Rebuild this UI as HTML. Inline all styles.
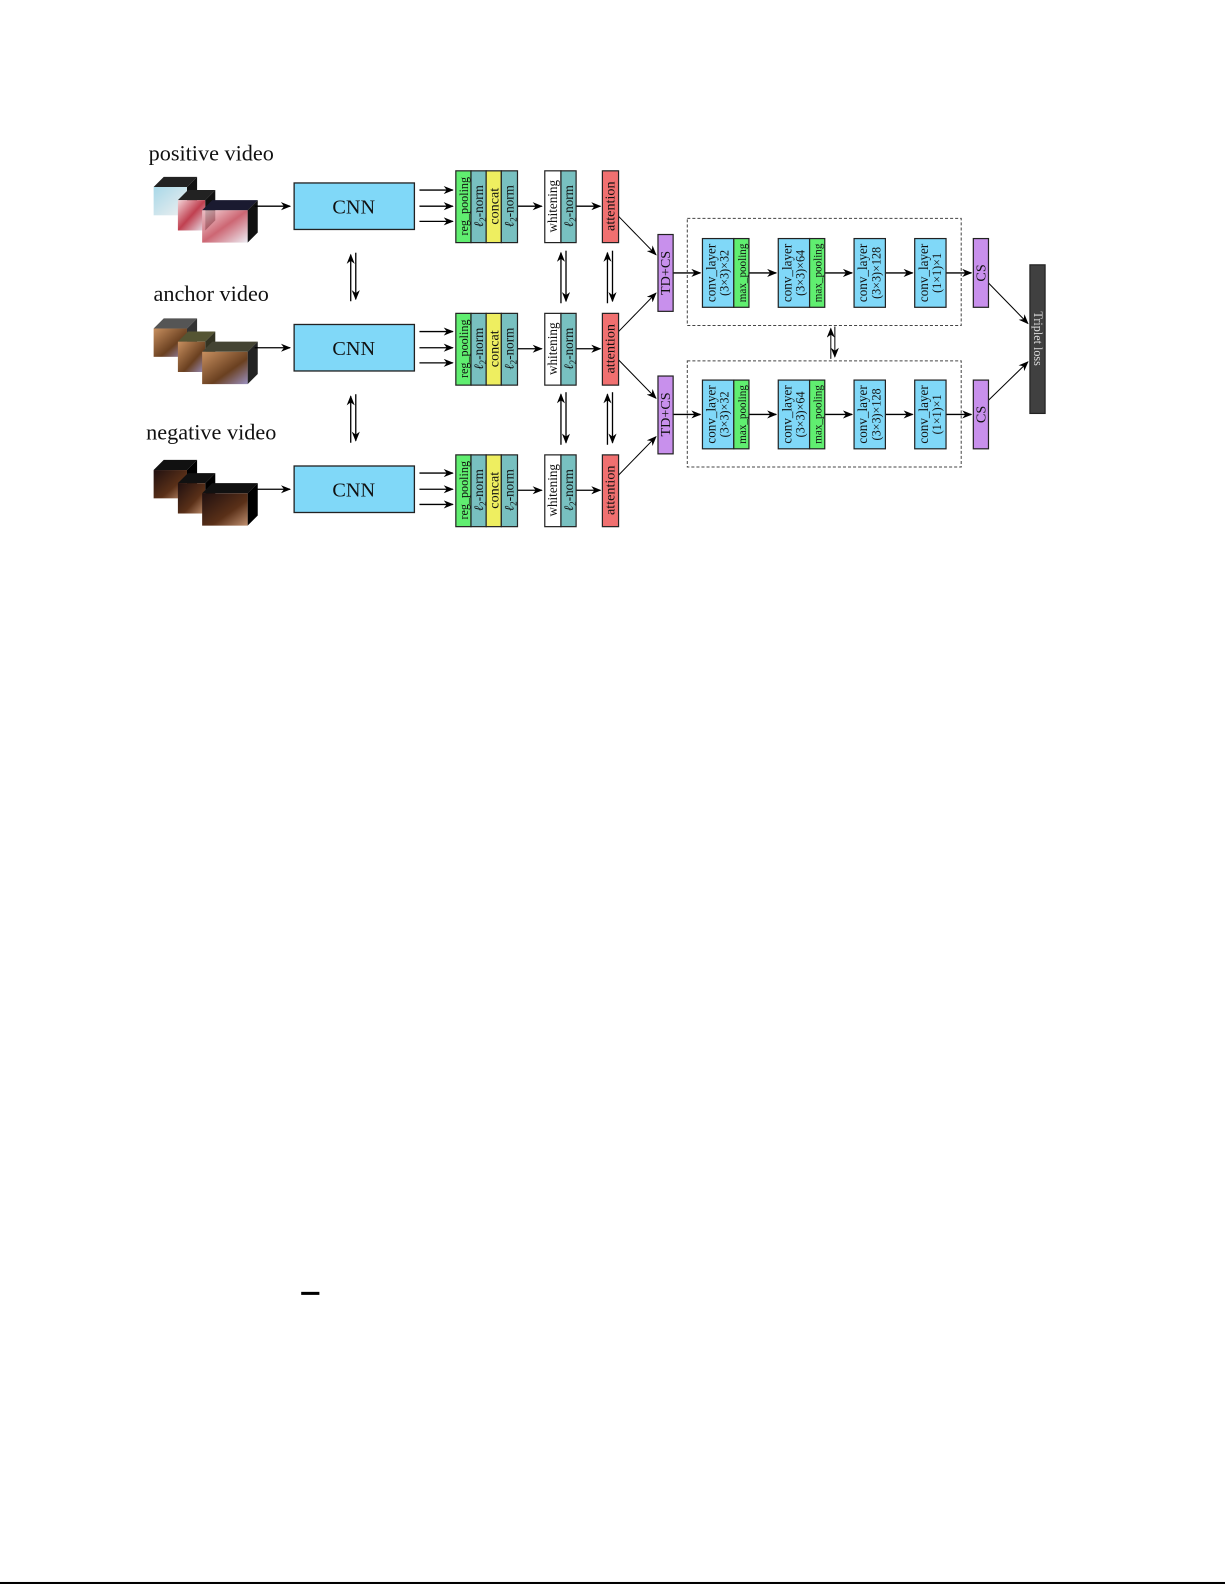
<!DOCTYPE html>
<html><head><meta charset="utf-8"><style>
html,body{margin:0;padding:0;background:#fff;}
svg{display:block;}
text{font-family:"Liberation Serif",serif;fill:#111;}
</style></head><body>
<svg width="1225" height="1585" viewBox="0 0 1212 1568" preserveAspectRatio="none" xmlns="http://www.w3.org/2000/svg">
<defs>
<marker id="ah" markerWidth="10" markerHeight="8" refX="9" refY="4" orient="auto" markerUnits="userSpaceOnUse">
<path d="M0,0 L10,4 L0,8 L3,4 z" fill="#000"/></marker>
<linearGradient id="gp" x1="0" y1="0" x2="1" y2="1"><stop offset="0" stop-color="#f4d4d8"/><stop offset="0.5" stop-color="#c04050"/><stop offset="1" stop-color="#e8e8f0"/></linearGradient>
<linearGradient id="gp2" x1="0" y1="0" x2="1" y2="1"><stop offset="0" stop-color="#a8d8e8"/><stop offset="1" stop-color="#f0f0f0"/></linearGradient>
<linearGradient id="ga" x1="0" y1="0" x2="1" y2="1"><stop offset="0" stop-color="#c89060"/><stop offset="0.6" stop-color="#6a4020"/><stop offset="1" stop-color="#9a90c0"/></linearGradient>
<linearGradient id="gn" x1="0" y1="0" x2="1" y2="1"><stop offset="0" stop-color="#201010"/><stop offset="0.6" stop-color="#5a3018"/><stop offset="1" stop-color="#c09070"/></linearGradient>
</defs>

<text x="209" y="159" font-size="22" text-anchor="middle">positive video</text>
<text x="209" y="298" font-size="22" text-anchor="middle">anchor video</text>
<text x="209" y="435" font-size="22" text-anchor="middle">negative video</text>

<g id="thumbs">
<polygon points="152,185 162,175 195,175 185,185" fill="#222"/><polygon points="185,185 195,175 195,203 185,213" fill="#111"/>
<rect x="152" y="185" width="33" height="28" fill="url(#gp2)"/>
<polygon points="176,198 186,188 213,188 203,198" fill="#222"/><polygon points="203,198 213,188 213,218 203,228" fill="#111"/>
<rect x="176" y="198" width="27" height="30" fill="url(#gp)"/>
<polygon points="200,208 210,198 255,198 245,208" fill="#1a1a30"/><polygon points="245,208 255,198 255,230 245,240" fill="#111"/>
<rect x="200" y="208" width="45" height="32" fill="url(#gp)" opacity="0.8"/>
<polygon points="152,325 162,315 195,315 185,325" fill="#555"/><polygon points="185,325 195,315 195,343 185,353" fill="#333"/>
<rect x="152" y="325" width="33" height="28" fill="url(#ga)"/>
<polygon points="176,338 186,328 213,328 203,338" fill="#553"/><polygon points="203,338 213,328 213,358 203,368" fill="#332"/>
<rect x="176" y="338" width="27" height="30" fill="url(#ga)"/>
<polygon points="200,348 210,338 255,338 245,348" fill="#443"/><polygon points="245,348 255,338 255,370 245,380" fill="#222"/>
<rect x="200" y="348" width="45" height="32" fill="url(#ga)"/>
<polygon points="152,465 162,455 195,455 185,465" fill="#111"/><polygon points="185,465 195,455 195,483 185,493" fill="#000"/>
<rect x="152" y="465" width="33" height="28" fill="url(#gn)"/>
<polygon points="176,478 186,468 213,468 203,478" fill="#111"/><polygon points="203,478 213,468 213,498 203,508" fill="#000"/>
<rect x="176" y="478" width="27" height="30" fill="url(#gn)"/>
<polygon points="200,488 210,478 255,478 245,488" fill="#111"/><polygon points="245,488 255,478 255,510 245,520" fill="#000"/>
<rect x="200" y="488" width="45" height="32" fill="url(#gn)"/>
</g>

<g stroke="#000" stroke-width="1.3" fill="none">
<line x1="252" y1="204" x2="287" y2="204" marker-end="url(#ah)"/>
<line x1="252" y1="344" x2="287" y2="344" marker-end="url(#ah)"/>
<line x1="252" y1="484" x2="287" y2="484" marker-end="url(#ah)"/>
</g>

<g stroke="#222" stroke-width="1.3">
<rect x="291" y="181" width="119" height="46" fill="#80d8f8"/>
<rect x="291" y="321" width="119" height="46" fill="#80d8f8"/>
<rect x="291" y="461" width="119" height="46" fill="#80d8f8"/>
</g>
<text x="350" y="211" font-size="20" text-anchor="middle">CNN</text>
<text x="350" y="351" font-size="20" text-anchor="middle">CNN</text>
<text x="350" y="491" font-size="20" text-anchor="middle">CNN</text>

<g stroke="#000" stroke-width="1.3" fill="none">
<line x1="415" y1="188" x2="448" y2="188" marker-end="url(#ah)"/>
<line x1="415" y1="204" x2="448" y2="204" marker-end="url(#ah)"/>
<line x1="415" y1="219" x2="448" y2="219" marker-end="url(#ah)"/>
<line x1="415" y1="328" x2="448" y2="328" marker-end="url(#ah)"/>
<line x1="415" y1="344" x2="448" y2="344" marker-end="url(#ah)"/>
<line x1="415" y1="359" x2="448" y2="359" marker-end="url(#ah)"/>
<line x1="415" y1="468" x2="448" y2="468" marker-end="url(#ah)"/>
<line x1="415" y1="484" x2="448" y2="484" marker-end="url(#ah)"/>
<line x1="415" y1="499" x2="448" y2="499" marker-end="url(#ah)"/>
<line x1="512" y1="204" x2="536" y2="204" marker-end="url(#ah)"/>
<line x1="512" y1="345" x2="536" y2="345" marker-end="url(#ah)"/>
<line x1="512" y1="485" x2="536" y2="485" marker-end="url(#ah)"/>
<line x1="570" y1="204" x2="594" y2="204" marker-end="url(#ah)"/>
<line x1="570" y1="345" x2="594" y2="345" marker-end="url(#ah)"/>
<line x1="570" y1="485" x2="594" y2="485" marker-end="url(#ah)"/>
<line x1="347" y1="298" x2="347" y2="252" marker-end="url(#ah)"/>
<line x1="352" y1="250" x2="352" y2="296" marker-end="url(#ah)"/>
<line x1="347" y1="438" x2="347" y2="392" marker-end="url(#ah)"/>
<line x1="352" y1="390" x2="352" y2="436" marker-end="url(#ah)"/>
<line x1="555" y1="300" x2="555" y2="250" marker-end="url(#ah)"/>
<line x1="560" y1="248" x2="560" y2="298" marker-end="url(#ah)"/>
<line x1="555" y1="440" x2="555" y2="390" marker-end="url(#ah)"/>
<line x1="560" y1="388" x2="560" y2="438" marker-end="url(#ah)"/>
<line x1="601" y1="300" x2="601" y2="250" marker-end="url(#ah)"/>
<line x1="606" y1="248" x2="606" y2="298" marker-end="url(#ah)"/>
<line x1="601" y1="440" x2="601" y2="390" marker-end="url(#ah)"/>
<line x1="606" y1="388" x2="606" y2="438" marker-end="url(#ah)"/>
<line x1="822" y1="355" x2="822" y2="325" marker-end="url(#ah)" stroke-width="1"/>
<line x1="826" y1="323" x2="826" y2="353" marker-end="url(#ah)" stroke-width="1"/>
<line x1="612" y1="214" x2="649" y2="252" marker-end="url(#ah)" stroke-width="1"/>
<line x1="612" y1="328" x2="649" y2="290" marker-end="url(#ah)" stroke-width="1"/>
<line x1="612" y1="356" x2="649" y2="394" marker-end="url(#ah)" stroke-width="1"/>
<line x1="612" y1="470" x2="649" y2="432" marker-end="url(#ah)" stroke-width="1"/>
<line x1="666" y1="270" x2="693" y2="270" marker-end="url(#ah)"/>
<line x1="741" y1="270" x2="768" y2="270" marker-end="url(#ah)"/>
<line x1="816" y1="270" x2="843" y2="270" marker-end="url(#ah)"/>
<line x1="876" y1="270" x2="903" y2="270" marker-end="url(#ah)"/>
<line x1="936" y1="270" x2="961" y2="270" marker-end="url(#ah)"/>
<line x1="666" y1="410" x2="693" y2="410" marker-end="url(#ah)"/>
<line x1="741" y1="410" x2="768" y2="410" marker-end="url(#ah)"/>
<line x1="816" y1="410" x2="843" y2="410" marker-end="url(#ah)"/>
<line x1="876" y1="410" x2="903" y2="410" marker-end="url(#ah)"/>
<line x1="936" y1="410" x2="961" y2="410" marker-end="url(#ah)"/>
<line x1="978" y1="280" x2="1017" y2="320" marker-end="url(#ah)" stroke-width="1"/>
<line x1="978" y1="396" x2="1017" y2="358" marker-end="url(#ah)" stroke-width="1"/>
</g>

<rect x="680" y="216" width="271" height="106" fill="none" stroke="#444" stroke-width="1" stroke-dasharray="3,2"/>
<rect x="680" y="357" width="271" height="105" fill="none" stroke="#444" stroke-width="1" stroke-dasharray="3,2"/>

<g stroke="#222" stroke-width="1.2">
<g id="fb">
<rect x="451" y="169" width="15" height="71" fill="#60ee70"/>
<rect x="466" y="169" width="15" height="71" fill="#78c0c0"/>
<rect x="481" y="169" width="15" height="71" fill="#eeee60"/>
<rect x="496" y="169" width="16" height="71" fill="#78c0c0"/>
<rect x="539" y="169" width="16" height="71" fill="#fff"/>
<rect x="555" y="169" width="15" height="71" fill="#78c0c0"/>
<rect x="596" y="169" width="16" height="71" fill="#f07070"/>
</g>
<use href="#fb" y="141"/>
<use href="#fb" y="281"/>
<rect x="651" y="232" width="15" height="76" fill="#c890ec"/>
<rect x="651" y="372" width="15" height="77" fill="#c890ec"/>
<g id="cv">
<rect x="695" y="236" width="31" height="68" fill="#80d8f8"/>
<rect x="726" y="236" width="15" height="68" fill="#60ee70"/>
<rect x="770" y="236" width="31" height="68" fill="#80d8f8"/>
<rect x="801" y="236" width="15" height="68" fill="#60ee70"/>
<rect x="845" y="236" width="31" height="68" fill="#80d8f8"/>
<rect x="905" y="236" width="31" height="68" fill="#80d8f8"/>
<rect x="963" y="236" width="15" height="68" fill="#c890ec"/>
</g>
<use href="#cv" y="140"/>
<rect x="1019" y="262" width="15" height="147" fill="#404040"/>
</g>

<g font-size="13">
<g id="lb">
<text transform="translate(463,204) rotate(-90)" text-anchor="middle" font-size="12">reg_pooling</text>
<text transform="translate(478,204) rotate(-90)" text-anchor="middle"><tspan font-style="italic">ℓ</tspan><tspan font-size="9" dy="3">2</tspan><tspan dy="-3">-norm</tspan></text>
<text transform="translate(493,204) rotate(-90)" text-anchor="middle" font-size="14">concat</text>
<text transform="translate(508,204) rotate(-90)" text-anchor="middle"><tspan font-style="italic">ℓ</tspan><tspan font-size="9" dy="3">2</tspan><tspan dy="-3">-norm</tspan></text>
<text transform="translate(551,204) rotate(-90)" text-anchor="middle">whitening</text>
<text transform="translate(567,204) rotate(-90)" text-anchor="middle"><tspan font-style="italic">ℓ</tspan><tspan font-size="9" dy="3">2</tspan><tspan dy="-3">-norm</tspan></text>
<text transform="translate(608,204) rotate(-90)" text-anchor="middle" font-size="14">attention</text>
</g>
<use href="#lb" y="141"/>
<use href="#lb" y="281"/>
<text transform="translate(663,270) rotate(-90)" text-anchor="middle" font-size="14">TD+CS</text>
<text transform="translate(663,410) rotate(-90)" text-anchor="middle" font-size="14">TD+CS</text>
<g id="cl">
<text transform="translate(708,270) rotate(-90)" text-anchor="middle">conv_layer</text>
<text transform="translate(721,270) rotate(-90)" text-anchor="middle" font-size="12">(3×3)×32</text>
<text transform="translate(738,270) rotate(-90)" text-anchor="middle" font-size="11">max_pooling</text>
<text transform="translate(783,270) rotate(-90)" text-anchor="middle">conv_layer</text>
<text transform="translate(796,270) rotate(-90)" text-anchor="middle" font-size="12">(3×3)×64</text>
<text transform="translate(813,270) rotate(-90)" text-anchor="middle" font-size="11">max_pooling</text>
<text transform="translate(858,270) rotate(-90)" text-anchor="middle">conv_layer</text>
<text transform="translate(871,270) rotate(-90)" text-anchor="middle" font-size="12">(3×3)×128</text>
<text transform="translate(918,270) rotate(-90)" text-anchor="middle">conv_layer</text>
<text transform="translate(931,270) rotate(-90)" text-anchor="middle" font-size="12">(1×1)×1</text>
<text transform="translate(975,270) rotate(-90)" text-anchor="middle" font-size="14">CS</text>
</g>
<use href="#cl" y="140"/>
<text transform="translate(1023,335) rotate(90)" text-anchor="middle" font-size="12" style="fill:#ddd">Triplet loss</text>
</g>

<rect x="298" y="1278" width="18" height="3" fill="#000"/>
<rect x="0" y="1565" width="1212" height="2" fill="#000"/>
</svg>
</body></html>
